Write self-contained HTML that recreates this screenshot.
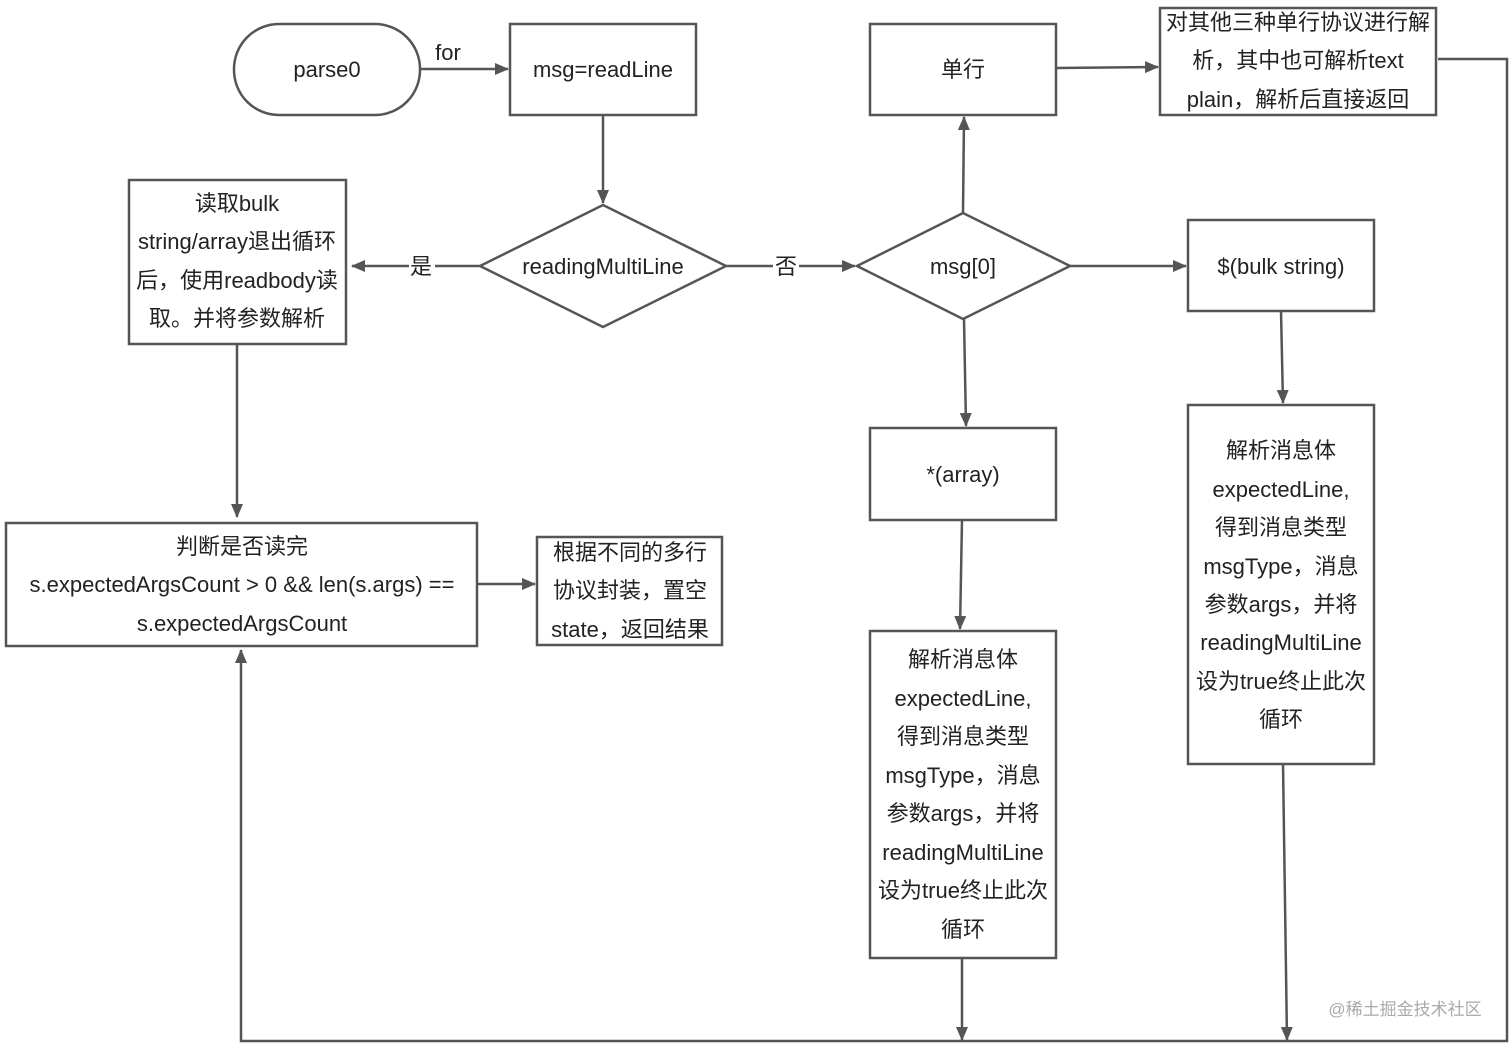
<!DOCTYPE html>
<html><head><meta charset="utf-8"><style>
html,body{margin:0;padding:0;background:#fff;}
svg{display:block;}
text{font-family:"Liberation Sans","Noto Sans CJK SC",sans-serif;font-size:22px;fill:#222;text-anchor:middle;}
</style></head><body>
<svg width="1512" height="1045" viewBox="0 0 1512 1045">
<defs><marker id="a" markerWidth="14" markerHeight="12" refX="13" refY="6" orient="auto" markerUnits="userSpaceOnUse"><path d="M0,0 L14,6 L0,12 Z" fill="#555"/></marker></defs>
<g fill="none" stroke="#555" stroke-width="2.5">
<rect x="234" y="24" width="186" height="91" rx="45"/>
<rect x="510" y="24" width="186" height="91"/>
<rect x="870" y="24" width="186" height="91"/>
<rect x="1160" y="8" width="276" height="107"/>
<rect x="129" y="180" width="217" height="164"/>
<polygon points="480,266 603,205 726,266 603,327"/>
<polygon points="857,266 963,213 1070,266 963,319"/>
<rect x="1188" y="220" width="186" height="91"/>
<rect x="870" y="428" width="186" height="92"/>
<rect x="6" y="523" width="471" height="123"/>
<rect x="537" y="537" width="185" height="108"/>
<rect x="870" y="631" width="186" height="327"/>
<rect x="1188" y="405" width="186" height="359"/>
<g marker-end="url(#a)">
<line x1="420" y1="69" x2="508" y2="69"/>
<line x1="603" y1="115" x2="603" y2="203"/>
<line x1="480" y1="266" x2="352" y2="266"/>
<line x1="726" y1="266" x2="855" y2="266"/>
<line x1="963" y1="213" x2="964" y2="117"/>
<line x1="1056" y1="68" x2="1158" y2="67"/>
<line x1="1070" y1="266" x2="1186" y2="266"/>
<line x1="964" y1="319" x2="966" y2="426"/>
<line x1="1281" y1="311" x2="1283" y2="403"/>
<line x1="962" y1="520" x2="960" y2="629"/>
<line x1="237" y1="344" x2="237" y2="517"/>
<line x1="477" y1="584" x2="535" y2="584"/>
<line x1="962" y1="958" x2="962" y2="1040"/>
<line x1="1283" y1="764" x2="1287" y2="1040"/>
<polyline points="1438,59 1507,59 1507,1041 241,1041 241,650"/>
</g>
</g>
<g fill="#fff"><rect x="409" y="253" width="26" height="26"/><rect x="773" y="253" width="26" height="26"/></g>
<text x="327" y="77">parse0</text>
<text x="448" y="60">for</text>
<text x="603" y="77">msg=readLine</text>
<text x="963" y="77">单行</text>
<text x="1298" y="30">对其他三种单行协议进行解</text>
<text x="1298" y="68">析，其中也可解析text</text>
<text x="1298" y="107">plain，解析后直接返回</text>
<text x="237" y="211">读取bulk</text>
<text x="237" y="249">string/array退出循环</text>
<text x="237" y="288">后，使用readbody读</text>
<text x="237" y="326">取。并将参数解析</text>
<text x="421" y="274">是</text>
<text x="603" y="274">readingMultiLine</text>
<text x="786" y="274">否</text>
<text x="963" y="274">msg[0]</text>
<text x="1281" y="274">$(bulk string)</text>
<text x="963" y="482">*(array)</text>
<text x="242" y="554">判断是否读完</text>
<text x="242" y="592">s.expectedArgsCount &gt; 0 &amp;&amp; len(s.args) ==</text>
<text x="242" y="631">s.expectedArgsCount</text>
<text x="630" y="560">根据不同的多行</text>
<text x="630" y="598">协议封装，置空</text>
<text x="630" y="637">state，返回结果</text>
<g>
<text x="963" y="667">解析消息体</text>
<text x="963" y="706">expectedLine,</text>
<text x="963" y="744">得到消息类型</text>
<text x="963" y="783">msgType，消息</text>
<text x="963" y="821">参数args，并将</text>
<text x="963" y="860">readingMultiLine</text>
<text x="963" y="898">设为true终止此次</text>
<text x="963" y="937">循环</text>
</g>
<g>
<text x="1281" y="458">解析消息体</text>
<text x="1281" y="497">expectedLine,</text>
<text x="1281" y="535">得到消息类型</text>
<text x="1281" y="574">msgType，消息</text>
<text x="1281" y="612">参数args，并将</text>
<text x="1281" y="650">readingMultiLine</text>
<text x="1281" y="689">设为true终止此次</text>
<text x="1281" y="727">循环</text>
</g>
<text x="1405" y="1015" style="font-size:17px;fill:#aaa">@稀土掘金技术社区</text>
</svg>
</body></html>
